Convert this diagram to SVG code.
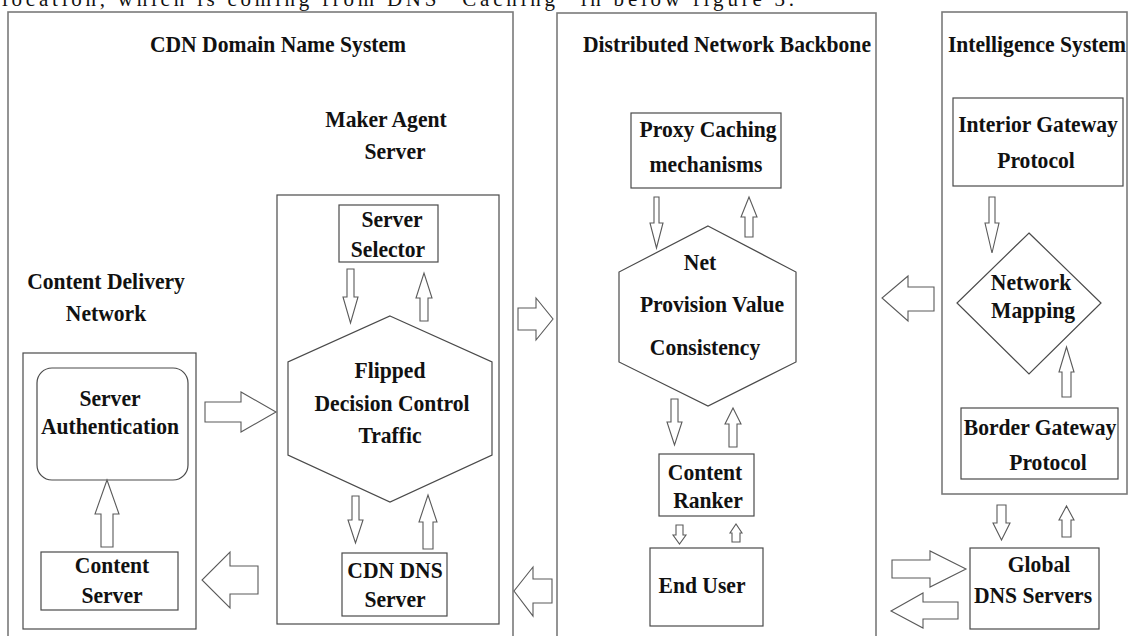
<svg xmlns="http://www.w3.org/2000/svg" width="1128" height="636" viewBox="0 0 1128 636">
<style>
.frame{fill:none;stroke:#7a7a7a;stroke-width:1.6}
.box{fill:#fff;stroke:#4a4a4a;stroke-width:1.2}
.arr{fill:#fff;stroke:#5a5a5a;stroke-width:1.1;stroke-linejoin:miter}
text{font-family:"Liberation Serif","Times New Roman",serif;font-weight:bold;font-size:24px;fill:#111;text-anchor:middle;transform-box:fill-box;transform-origin:center;transform:scaleX(0.9)}
.top{font-weight:normal;font-size:21px;text-anchor:start;transform:none}
</style>
<rect width="1128" height="636" fill="#fff"/>
<text class="top" x="2" y="6" textLength="792" lengthAdjust="spacing">location,  which  is  coming  from  DNS  “Caching”  in below figure 3.</text>

<g id="cdn-domain-name-system">
<rect class="frame" x="8" y="12" width="505" height="640"/>
<text x="278" y="52">CDN Domain Name System</text>
</g>
<g id="distributed-network-backbone">
<rect class="frame" x="557" y="13" width="319" height="640"/>
<text x="727" y="52">Distributed Network Backbone</text>
</g>
<g id="intelligence-system">
<rect class="frame" x="942" y="12" width="185" height="482"/>
<text x="1037" y="52">Intelligence System</text>
</g>

<g id="content-delivery-network">
<text x="106" y="289">Content Delivery</text>
<text x="106" y="321">Network</text>
<rect class="box" x="23" y="353" width="173" height="276"/>
</g>
<g id="server-authentication">
<rect class="box" x="37" y="368" width="151" height="112" rx="15" ry="15"/>
<text x="110" y="406">Server</text>
<text x="110" y="434">Authentication</text>
</g>
<g id="content-server">
<rect class="box" x="41" y="552" width="137" height="58"/>
<text x="112" y="573">Content</text>
<text x="112" y="603">Server</text>
</g>

<g id="maker-agent-server">
<text x="386" y="127">Maker Agent</text>
<text x="395" y="159">Server</text>
<rect class="box" x="277" y="195" width="222" height="429"/>
</g>
<g id="server-selector">
<rect class="box" x="339" y="205" width="99" height="57"/>
<text x="392" y="227">Server</text>
<text x="388" y="257">Selector</text>
</g>
<g id="flipped-decision-control-traffic">
<polygon class="box" points="390,316 492,362 492,455 390,502 288,455 288,362"/>
<text x="390" y="378">Flipped</text>
<text x="392" y="411">Decision Control</text>
<text x="390" y="443">Traffic</text>
</g>
<g id="cdn-dns-server">
<rect class="box" x="342" y="553" width="105" height="63"/>
<text x="395" y="578">CDN DNS</text>
<text x="395" y="607">Server</text>
</g>

<g id="proxy-caching-mechanisms">
<rect class="box" x="631" y="113" width="150" height="75"/>
<text x="708" y="137">Proxy Caching</text>
<text x="706" y="172">mechanisms</text>
</g>
<g id="net-provision-value-consistency">
<polygon class="box" points="708,226 796,272 796,362 708,406 619,362 619,272"/>
<text x="700" y="270">Net</text>
<text x="712" y="312">Provision Value</text>
<text x="705" y="355">Consistency</text>
</g>
<g id="content-ranker">
<rect class="box" x="659" y="454" width="95" height="62"/>
<text x="705" y="480">Content</text>
<text x="708" y="508">Ranker</text>
</g>
<g id="end-user">
<rect class="box" x="650" y="548" width="113" height="78"/>
<text x="702" y="593">End User</text>
</g>

<g id="interior-gateway-protocol">
<rect class="box" x="953" y="98" width="170" height="88"/>
<text x="1038" y="132">Interior Gateway</text>
<text x="1036" y="168">Protocol</text>
</g>
<g id="network-mapping">
<polygon class="box" points="1029,233 1101,303 1029,374 957,303"/>
<text x="1031" y="290">Network</text>
<text x="1033" y="318">Mapping</text>
</g>
<g id="border-gateway-protocol">
<rect class="box" x="961" y="408" width="157" height="71"/>
<text x="1040" y="435">Border Gateway</text>
<text x="1048" y="470">Protocol</text>
</g>
<g id="global-dns-servers">
<rect class="box" x="970" y="548" width="129" height="81"/>
<text x="1039" y="572">Global</text>
<text x="1033" y="603">DNS Servers</text>
</g>

<g id="connectors">
<polygon class="arr" points="347,269 354,269 354,297 358,297 350.5,323 343,297 347,297"/>
<polygon class="arr" points="420,321 428,321 428,298 432,298 424,273 416,298 420,298"/>
<polygon class="arr" points="352,496 359,496 359,520 363,520 355.5,543 348,520 352,520"/>
<polygon class="arr" points="423,549 433,549 433,522 437,522 428,495 419,522 423,522"/>
<polygon class="arr" points="205,402 241,402 241,392 276,412 241,432 241,422 205,422"/>
<polygon class="arr" points="101,547 113,547 113,514 119,514 107,480 95,514 101,514"/>
<polygon class="arr" points="258,566 230,566 230,552 202,580 230,608 230,594 258,594"/>
<polygon class="arr" points="518,308 536,308 536,298 553,319 536,340 536,330 518,330"/>
<polygon class="arr" points="552,579 533,579 533,567 514,591 533,616 533,603 552,603"/>
<polygon class="arr" points="654,197 659,197 659,223 663,223 656.5,248 650,223 654,223"/>
<polygon class="arr" points="745,237 753,237 753,217 757,217 749,197 741,217 745,217"/>
<polygon class="arr" points="671,399 678,399 678,422 682,422 674.5,445 667,422 671,422"/>
<polygon class="arr" points="729,447 737,447 737,424 741,424 733,408 725,424 729,424"/>
<polygon class="arr" points="676,525 683,525 683,535 686,535 679.5,544 673,535 676,535"/>
<polygon class="arr" points="732,542 740,542 740,533 742,533 736,524 730,533 732,533"/>
<polygon class="arr" points="989,197 995,197 995,223 999,223 992,253 985,223 989,223"/>
<polygon class="arr" points="1062,397 1071,397 1071,372 1074,372 1066.5,347 1059,372 1062,372"/>
<polygon class="arr" points="934,287 908,287 908,276 882,298 908,321 908,311 934,311"/>
<polygon class="arr" points="997,505 1006,505 1006,523 1010,523 1001.5,540 993,523 997,523"/>
<polygon class="arr" points="1062,537 1071,537 1071,520 1074,520 1066.5,506 1059,520 1062,520"/>
<polygon class="arr" points="892,560 930,560 930,551 966,569 930,587 930,578 892,578"/>
<polygon class="arr" points="958,602 923,602 923,593 891,611 923,628 923,619 958,619"/>
</g>
</svg>
